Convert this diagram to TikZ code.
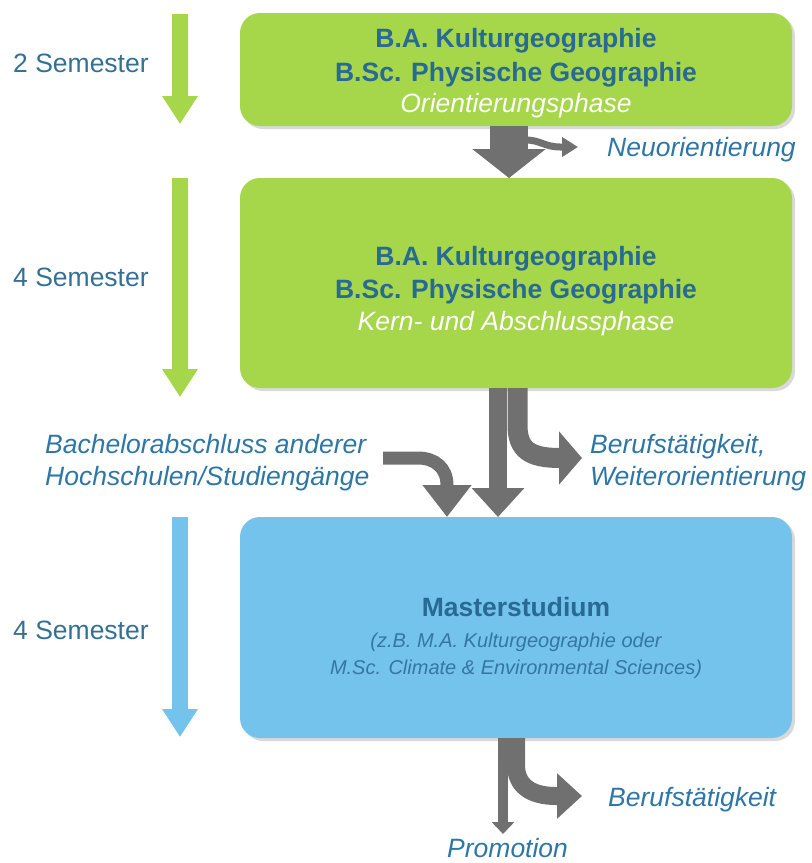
\documentclass[tikz,border=0pt]{standalone}
\usepackage{fontspec}
\setmainfont{Liberation Sans}
\usetikzlibrary{arrows.meta,shadows}
\definecolor{lgreen}{RGB}{166,214,74}
\definecolor{lblue}{RGB}{116,195,236}
\definecolor{agray}{RGB}{112,112,112}
\definecolor{tblue}{RGB}{40,106,148}
\definecolor{lblbl}{RGB}{46,118,165}
\definecolor{subbl}{RGB}{52,118,165}
\definecolor{semcol}{RGB}{52,112,148}
\begin{document}
\begin{tikzpicture}[x=1pt,y=-1pt,
  box/.style={rounded corners=20pt, inner sep=0pt, outer sep=0pt, minimum width=552pt,
    drop shadow={shadow xshift=3pt,shadow yshift=-3pt,opacity=0.3}},
  txt/.style={font=\fontsize{26.5}{32}\selectfont, inner sep=0pt, anchor=base},
  lbl/.style={font=\fontsize{26.5}{32}\selectfont\itshape, inner sep=0pt, text=lblbl},
  subtxt/.style={font=\fontsize{20}{27}\selectfont\itshape, inner sep=0pt, anchor=base, text=subbl},
  semarrow/.style={line width=16pt, -{Triangle[length=28pt,width=34pt]}},
  garrow/.style={draw=agray, fill=agray}
]
\useasboundingbox (0,0) rectangle (812,863);

% boxes
\node[box, fill=lgreen, minimum height=113pt] (box1) at (516,69.5) {};
\node[box, fill=lgreen, minimum height=210pt] (box2) at (516,283) {};
\node[box, fill=lblue, minimum height=221pt] (box3) at (516,627.5) {};

% box texts
\node[txt, text=tblue] (t1a) at (516,47.5) {\bfseries B.A. Kulturgeographie};
\node[txt, text=tblue] (t1b) at (516,81.5) {\bfseries B.Sc. Physische Geographie};
\node[txt, text=white] (t1c) at (516,112) {\itshape Orientierungsphase};
\node[txt, text=tblue] (t2a) at (516,265.5) {\bfseries B.A. Kulturgeographie};
\node[txt, text=tblue] (t2b) at (516,298.5) {\bfseries B.Sc. Physische Geographie};
\node[txt, text=white] (t2c) at (516,330) {\itshape Kern- und Abschlussphase};
\node[txt, text=tblue] (t3a) at (516,616.5) {\bfseries Masterstudium};
\node[subtxt] (t3b) at (516,647) {(z.B. M.A. Kulturgeographie oder};
\node[subtxt] (t3c) at (516,674) {M.Sc. Climate \& Environmental Sciences)};

% semester arrows and labels
\coordinate (s1a) at (180,14);  \coordinate (s1b) at (180,124);
\coordinate (s2a) at (180,178); \coordinate (s2b) at (180,397);
\coordinate (s3a) at (180,517); \coordinate (s3b) at (180,737);
\draw[semarrow, lgreen] (s1a) -- (s1b);
\draw[semarrow, lgreen] (s2a) -- (s2b);
\draw[semarrow, lblue] (s3a) -- (s3b);
\node[txt, anchor=base west, text=semcol] (sem1) at (13,72.5) {2 Semester};
\node[txt, anchor=base west, text=semcol] (sem2) at (13,286.5) {4 Semester};
\node[txt, anchor=base west, text=semcol] (sem3) at (13,639.5) {4 Semester};

% side labels
\node[lbl, anchor=base west] (neu) at (607,156.5) {Neuorientierung};
\node[lbl, anchor=west, align=left] (beruf1) at (590,462.7) {Berufstätigkeit,\\Weiterorientierung};
\node[lbl, anchor=west, align=left] (bach) at (45,462.7) {Bachelorabschluss anderer\\Hochschulen/Studiengänge};
\node[lbl, anchor=base west] (beruf2) at (608,806.5) {Berufstätigkeit};
\node[lbl, anchor=base west] (promo) at (447,857.5) {Promotion};

% gray arrows: box1 -> box2
\draw[agray, line width=38pt, -{Triangle[length=29pt,width=72pt]}]
  ([xshift=-7pt]box1.south) -- ([xshift=-7pt]box2.north);
\coordinate (nb) at (526,140);
\coordinate (ne) at (578,147);
\draw[agray, line width=7pt, -{Triangle[length=16pt,width=19pt]}]
  (nb) .. controls (540,140) and (545,147) .. (560,147) -- (ne);

% box2 -> box3 and branch
\draw[agray, line width=18pt, -{Triangle[length=29pt,width=51pt]}]
  ([xshift=-18pt]box2.south) -- ([xshift=-18pt]box3.north);
\draw[agray, line width=20pt, -{Triangle[length=23pt,width=52pt]}]
  ([xshift=1.5pt]box2.south) -- (517.5,425) .. controls (517.5,450) and (530,458) .. (560,458) -- (582,458);

% external bachelor arrow
\coordinate (cb) at (383,458);
\draw[agray, line width=13pt, -{Triangle[length=32pt,width=47pt]}]
  (cb) -- (418,458) .. controls (435,458) and (447,468) .. (447,485) -- ([xshift=-69pt]box3.north);

% box3 -> outputs
\draw[agray, line width=10pt, -{Triangle[length=12pt,width=22pt]}]
  ([xshift=-13pt]box3.south) -- (503,834);
\draw[agray, line width=18pt, -{Triangle[length=25pt,width=44pt]}]
  ([xshift=0pt]box3.south) -- (516,765) .. controls (516,785) and (530,796) .. (556,796) -- (582,796);
\end{tikzpicture}
\end{document}
